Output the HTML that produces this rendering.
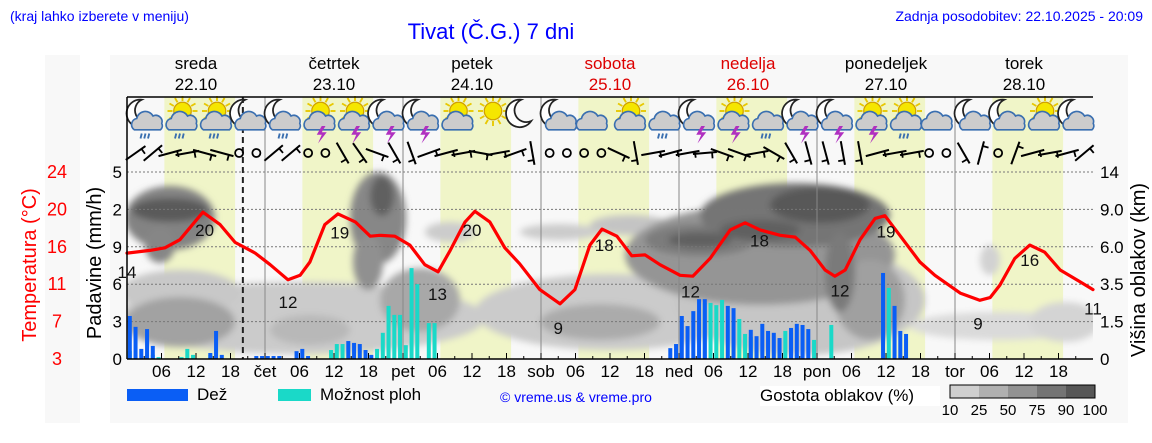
<!DOCTYPE html>
<html><head><meta charset="utf-8"><style>
body{margin:0;background:#fff;}
svg{display:block;font-family:"Liberation Sans","DejaVu Sans",sans-serif;}
</style></head><body>
<svg id="chart" width="1152" height="443" viewBox="0 0 1152 443" xmlns="http://www.w3.org/2000/svg">
<defs>
<filter id="blur" x="-20%" y="-20%" width="140%" height="140%"><feGaussianBlur stdDeviation="3.5"/></filter>
<clipPath id="plotclip"><rect x="127" y="97" width="966" height="262"/></clipPath>
</defs>
<rect x="45" y="55" width="35" height="368" fill="#f8f8f8"/>
<rect x="110" y="55" width="1018" height="368" fill="#f8f8f8"/>
<text x="10" y="21" font-size="14" fill="#0000ff">(kraj lahko izberete v meniju)</text>
<text x="491" y="39" font-size="22" fill="#0000ff" text-anchor="middle">Tivat (Č.G.) 7 dni</text>
<text x="1143" y="21" font-size="14" fill="#0000ff" text-anchor="end">Zadnja posodobitev: 22.10.2025 - 20:09</text>
<g id="daylayer"></g>
<g id="cloudlayer" clip-path="url(#plotclip)" filter="url(#blur)"></g>
<g id="gridlayer"></g>
<g id="barlayer"></g>
<g id="templayer"></g>
<g id="iconlayer"></g>
<g id="windlayer"></g>
<g id="axislayer"></g>
<g>
<rect x="127" y="389" width="61" height="12" fill="#0a5ef5"/>
<text x="197" y="400" font-size="17" fill="#000">Dež</text>
<rect x="278" y="389" width="33" height="12" fill="#1ad9c8"/>
<text x="320" y="400" font-size="17" fill="#000">Možnost ploh</text>
<text x="500" y="402" font-size="14" fill="#0000ff">© vreme.us &amp; vreme.pro</text>
<rect x="760" y="386" width="180" height="20" fill="#fff"/>
<text x="760" y="401" font-size="17" fill="#000">Gostota oblakov (%)</text>
<g id="cloudscale"></g>
</g>
</svg>
<script>
// ---- data ----
const dayNames = ["sreda","četrtek","petek","sobota","nedelja","ponedeljek","torek"];
const dayDates = ["22.10","23.10","24.10","25.10","26.10","27.10","28.10"];
const dayColors = ["#000","#000","#000","#d00","#d00","#000","#000"];
const dayAbbr = ["","čet","pet","sob","ned","pon","tor"];
const tempHours = [0,4,6.6,9.2,13.2,16.2,18.8,22.3,24.9,28,30.1,31.8,34.4,36.7,39.7,42.3,44,46.6,49.2,51.8,54.1,56.2,58.8,60.5,63.1,65.7,68.3,71.8,75.3,77.9,80.5,82.6,85.2,87.8,90.1,92.7,96.2,98.4,101.4,104.9,107.5,110.1,113.6,116.2,118.8,121.4,123.1,124.9,127.5,130.1,131.8,134.4,137.9,140.5,144.9,148.3,150.1,151.8,154.4,157,159.6,162.3,165.7,168];
const tempValues = [14.9,15.2,15.5,16.4,19.5,18.1,16.1,14.9,13.6,11.9,12.4,13.9,18.1,19.3,18.4,16.8,16.9,16.8,15.8,13.6,12.8,15.2,18.4,19.6,18.4,15.5,13.7,10.8,9.2,10.8,15.8,17.6,16.8,14.6,14.7,13.6,12.4,12.3,14.3,17.5,18.3,17.5,16.9,16.7,15.2,13,12.3,13,16.4,18.8,19.1,16.9,13.9,12.4,10.4,9.6,9.9,11.3,14.3,15.8,15,13,11.7,10.8];
const tempLabelHours = [0,13.5,28,37,54,60,75,83,98,110,124,132,148,157,168];
const tempLabelTexts = ["14","20","12","19","13","20","9","18","12","18","12","19","9","16","11"];
const tempLabelValues = [12.8,17.5,9.4,17.2,10.3,17.5,6.5,15.8,10.6,16.3,10.7,17.3,7.0,14.1,8.7];
const rainHours = [0,1,2,3,4,14,15,16,22,23,24,25,26,29,30,31,38,39,40,41,42,94,95,96,97,98,99,100,104,105,108,109,110,111,112,113,115,116,117,118,131,133,134,135];
const rainValues = [1.15,0.86,0.27,0.8,0.35,0.16,0.75,0.11,0.08,0.08,0.08,0.08,0.08,0.21,0.27,0.08,0.48,0.43,0.4,0.24,0.11,0.29,0.4,1.15,0.88,1.28,1.6,1.6,1.42,1.36,0.78,0.61,0.94,0.75,0.7,0.56,0.83,0.94,0.91,0.8,2.3,1.42,0.75,0.67];
const showerHours = [0,3,4,5,9,10,11,14,35,36,37,43,44,45,46,47,48,49,50,52,53,100,101,102,103,106,107,108,109,113,114,115,116,119,122,132];
const showerValues = [0.21,0.11,0.11,0.05,0.05,0.27,0.11,0.11,0.24,0.4,0.4,0.27,0.7,1.42,1.18,1.18,0.37,2.43,2.0,0.96,0.96,1.5,1.5,1.44,1.58,1.07,0.67,0.59,0.29,0.51,0.75,0.7,0.11,0.51,0.91,1.9];
const precipTicks = ["0","3","6","9","2","5"];
const cloudTicks = ["0","1.5","3.5","6.0","9.0","14"];
const tempTicks = ["3","7","11","16","20","24"];
const iconTypes = ["mr","sr","sr","mc","mr","st","st","mt","mt","sc","s","m","mc","c","sc","cr","mt","st","cr","mt","mt","st","sr","c","mc","mc","sc","mc"];
const windAngles = [-35,-40,-15,-10,15,15,null,null,-40,-40,null,null,60,55,20,60,70,-20,-15,-10,10,-10,-20,80,null,null,null,null,25,80,-10,-15,-10,-5,20,20,-10,30,60,75,75,80,80,-15,-10,-10,null,null,60,-75,null,-70,-15,-10,-15,-40];
const cloudBlobs = [
 [300,318,185,36,"#cbcbcb"],[610,312,135,38,"#cbcbcb"],[800,300,125,55,"#c6c6c6"],[1000,326,90,14,"#dadada"],[1065,322,35,20,"#d4d4d4"],[180,292,60,22,"#c8c8c8"],[560,232,40,8,"#cccccc"],[630,225,40,10,"#c4c4c4"],[450,232,25,10,"#cccccc"],[990,260,10,15,"#d2d2d2"],
 [180,322,55,25,"#a2a2a2"],[420,300,40,32,"#a8a8a8"],[600,322,60,18,"#ababab"],[760,255,135,50,"#959595"],[870,300,35,40,"#a0a0a0"],[310,330,40,15,"#b8b8b8"],
 [170,218,45,32,"#838383"],[160,245,15,18,"#868686"],[378,218,28,46,"#878787"],[368,262,15,28,"#909090"],[700,240,55,16,"#7b7b7b"],[795,215,95,32,"#747474"],[840,272,15,40,"#7a7a7a"],
 [170,210,38,12,"#5a5a5a"],[820,205,50,18,"#585858"],[700,240,32,8,"#616161"],[382,196,12,20,"#606060"],[760,230,40,10,"#616161"]
];
const scaleLabels = ["10","25","50","75","90","100"];
const scaleColors = ["#cfcfcf","#b0b0b0","#929292","#747474","#575757"];

// ---- scales ----
const X0=127, X1=1093, DAY=138, Y0=359, GRID=37.4;
const xH = h => X0 + h*DAY/24;
const yP = v => Y0 - v*GRID;
const yT = t => Y0 - (t-3)*8.9;
const NS="http://www.w3.org/2000/svg";
function mk(tag, attrs, parent, text){const e=document.createElementNS(NS,tag);for(const k in attrs)e.setAttribute(k,attrs[k]);if(text!==undefined)e.textContent=text;parent.appendChild(e);return e;}
const $=id=>document.getElementById(id);

for(let d=0;d<7;d++){
 const r=mk("rect",{x:xH(d*24+6.5),y:97,width:xH(18.8)-xH(6.5),height:262,fill:"#f0f5c8"},$("daylayer"));
 
 
 const n=mk("text",{x:xH(d*24+12),y:69,"font-size":17,"text-anchor":"middle",fill:dayColors[d]},$("daylayer"),dayNames[d]);
 
 
 const dt=mk("text",{x:xH(d*24+12),y:90,"font-size":17,"text-anchor":"middle",fill:dayColors[d]},$("daylayer"),dayDates[d]);
 
 
}
cloudBlobs.forEach(b=>{
 const e=mk("ellipse",{cx:b[0],cy:b[1],rx:b[2],ry:b[3],fill:b[4]},$("cloudlayer"));
 
 
});
const g=$("gridlayer");
for(let i=1;i<6;i++){
 const l=mk("line",{x1:X0,x2:X1,y1:yP(i),y2:yP(i),stroke:"#777","stroke-width":1,"stroke-dasharray":"2,2"},g);
 
 
}
for(let d=1;d<7;d++){
 const l=mk("line",{x1:xH(d*24),x2:xH(d*24),y1:97,y2:Y0,stroke:"#888","stroke-width":1},g);
 
 
}
const now=mk("line",{x1:xH(20.15),x2:xH(20.15),y1:97,y2:Y0,stroke:"#222","stroke-width":2,"stroke-dasharray":"6,4"},g);


showerHours.forEach((h,i)=>{
 const b=mk("rect",{x:xH(h)+0.8,y:yP(showerValues[i]),width:4,height:Y0-yP(showerValues[i]),fill:"#1ad9c8"},$("barlayer"));
 
 
});
rainHours.forEach((h,i)=>{
 const b=mk("rect",{x:xH(h)+0.8,y:yP(rainValues[i]),width:4,height:Y0-yP(rainValues[i]),fill:"#0a5ef5"},$("barlayer"));
 
 
});
const pts=tempHours.map((h,i)=>xH(h).toFixed(1)+","+yT(tempValues[i]).toFixed(1)).join(" ");
const tl=mk("polyline",{points:pts,fill:"none",stroke:"#f00","stroke-width":3.2,"stroke-linejoin":"round","stroke-linecap":"round"},$("templayer"));


tempLabelHours.forEach((h,i)=>{
 const t=mk("text",{x:xH(h),y:yT(tempLabelValues[i])+6,"font-size":17,"text-anchor":"middle",fill:"#111"},$("templayer"),tempLabelTexts[i]);
 
 
});
function cloud(p,cx,cy,col){mk("path",{d:`M${cx-11},${cy+6} a5,5 0 0 1 2,-9 a7,7 0 0 1 13,-2 a5,5 0 0 1 7,6 a4,4 0 0 1 -1,5 z`,fill:col,stroke:"#3a6fb0","stroke-width":1.3},p);}
function sun(p,cx,cy){for(let a=0;a<360;a+=30){const r=a*Math.PI/180;mk("line",{x1:cx+Math.cos(r)*8,y1:cy+Math.sin(r)*8,x2:cx+Math.cos(r)*12,y2:cy+Math.sin(r)*12,stroke:"#e8c800","stroke-width":1.5},p);}mk("circle",{cx:cx,cy:cy,r:7,fill:"#f5e600",stroke:"#d0a000","stroke-width":1},p);}
function moon(p,cx,cy){mk("path",{d:`M${cx+2},${cy-11} a11,11 0 1 0 8,17 a9,9 0 0 1 -8,-17 z`,fill:"#fff",stroke:"#222","stroke-width":1.4},p);}
iconTypes.forEach((t,i)=>{
 const cx=xH(i*6+3), cy=114;
 const gp=mk("g",{transform:`translate(${cx},${cy+2}) scale(1.25) translate(${-cx},${-cy})`},$("iconlayer"));
 
 
 if(t[0]==="m")moon(gp,cx-4,cy-2);
 if(t[0]==="s")sun(gp,cx+3,cy-4);
 if(t!=="s"&&t!=="m"){cloud(gp,t==="c"?cx:cx+3,cy+5,"#ccc");}
 if(t.endsWith("r")){for(let k=0;k<3;k++)mk("line",{x1:cx-2+k*3,y1:cy+14,x2:cx-3+k*3,y2:cy+18,stroke:"#3a6fb0","stroke-width":1.5},gp);}
 if(t.endsWith("t")){mk("path",{d:`M${cx+4},${cy+8} l-4,7 h4 l-3,7 l7,-9 h-4 l3,-5 z`,fill:"#b030c0"},gp);}
});
windAngles.forEach((a,i)=>{
 const cx=xH(i*3+1.5), cy=153;
 if(a===null){const c=mk("circle",{cx:cx,cy:cy,r:4,fill:"none",stroke:"#000","stroke-width":1.8},$("windlayer"));return;}
 const r=a*Math.PI/180, dx=Math.cos(r)*12, dy=Math.sin(r)*12;
 const w=mk("g",{},$("windlayer"));
 
 
 mk("line",{x1:cx-dx,y1:cy-dy,x2:cx+dx,y2:cy+dy,stroke:"#000","stroke-width":2},w);
 mk("line",{x1:cx+dx*0.6,y1:cy+dy*0.6,x2:cx+dx*0.6-Math.sin(r)*6,y2:cy+dy*0.6+Math.cos(r)*6,stroke:"#000","stroke-width":1.8},w);
});
const ax=$("axislayer");
[["line",{x1:X0,x2:X0,y1:97,y2:Y0}],["line",{x1:X0,x2:X1,y1:97,y2:97}],["line",{x1:X0,x2:X1,y1:Y0,y2:Y0}]].forEach(l=>{const e=mk(l[0],Object.assign({stroke:"#000","stroke-width":1.5},l[1]),ax);});
for(let h=3;h<168;h+=3){const e=mk("line",{x1:xH(h),x2:xH(h),y1:Y0,y2:Y0-(h%6?3:6),stroke:"#000","stroke-width":1},ax);}
for(let d=0;d<7;d++){[6,12,18].forEach(h=>{const e=mk("text",{x:xH(d*24+h),y:377,"font-size":17,"text-anchor":"middle"},ax,h<10?"0"+h:""+h);});
 if(d>0){const e=mk("text",{x:xH(d*24),y:377,"font-size":17,"text-anchor":"middle"},ax,dayAbbr[d]);}}
precipTicks.forEach((t,i)=>{const e=mk("text",{x:122,y:yP(i)+6,"font-size":17,"text-anchor":"end"},ax,t);});
cloudTicks.forEach((t,i)=>{const e=mk("text",{x:1100,y:yP(i)+6,"font-size":17},ax,t);});
tempTicks.forEach((t,i)=>{const e=mk("text",{x:57,y:yP(i)+6,"font-size":18,"text-anchor":"middle",fill:"#f00"},ax,t);});
const t1=mk("text",{x:36,y:265,"font-size":20,"text-anchor":"middle",fill:"#f00",transform:"rotate(-90 36 265)"},ax,"Temperatura (°C)");

const t2=mk("text",{x:101,y:263,"font-size":20,"text-anchor":"middle",transform:"rotate(-90 101 263)"},ax,"Padavine (mm/h)");

const t3=mk("text",{x:1145,y:270,"font-size":20,"text-anchor":"middle",transform:"rotate(-90 1145 270)"},ax,"Višina oblakov (km)");

scaleColors.forEach((c,i)=>{const e=mk("rect",{x:950+i*29,y:385,width:29,height:13,fill:c},$("cloudscale"));});
mk("rect",{x:950,y:385,width:145,height:13,fill:"none",stroke:"#000","stroke-width":1},$("cloudscale"));
scaleLabels.forEach((l,i)=>{const e=mk("text",{x:950+i*29,y:415,"font-size":15,"text-anchor":"middle"},$("cloudscale"),l);});
</script>
</body></html>
